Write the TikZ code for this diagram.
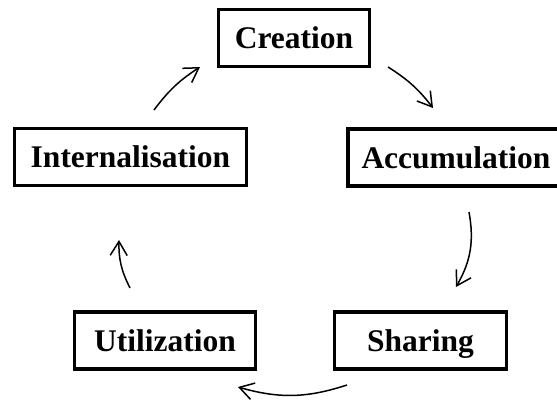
\documentclass[tikz,border=0pt]{standalone}
\usepackage{fontspec}
\setmainfont{Liberation Serif}
\usetikzlibrary{arrows.meta}
\begin{document}
\begin{tikzpicture}[x=1pt,y=1pt,
  stage/.style={draw, line width=3.5pt, minimum height=57pt, inner sep=0pt,
    text height=28pt, text depth=7pt,
    font=\fontsize{31.5}{36}\selectfont\bfseries},
  flow/.style={line width=1.5pt,
    -{Straight Barb[length=14pt,width=17pt,line width=1.5pt]}}]
\useasboundingbox (0,0) rectangle (557,-401);

% the five stages of the cycle
\node[stage, minimum width=151pt] (creation) at (294,-38)    {Creation};
\node[stage, minimum width=216pt] (accum)    at (456,-157.5) {Accumulation};
\node[stage, minimum width=172pt] (sharing)  at (420.5,-340.5) {Sharing};
\node[stage, minimum width=181pt] (util)     at (165,-340.5) {Utilization};
\node[stage, minimum width=232pt] (intern)   at (130.5,-157) {Internalisation};

% arrow end points, set apart from the boxes
\coordinate (ca1) at (388,-67);  \coordinate (ca2) at (433,-108);
\coordinate (as1) at (469,-212); \coordinate (as2) at (456,-287);
\coordinate (su1) at (347,-385); \coordinate (su2) at (238,-387);
\coordinate (ui1) at (130,-288); \coordinate (ui2) at (119,-240);
\coordinate (ic1) at (154,-110); \coordinate (ic2) at (200,-67);

% clockwise flow between the stages
\draw[flow] (ca1) to[bend left=10] (ca2);
\draw[flow] (as1) to[bend left=20] (as2);
\draw[flow] (su1) to[bend left=17] (su2);
\draw[flow] (ui1) to[bend left=14] (ui2);
\draw[flow] (ic1) to[bend left=10] (ic2);
\end{tikzpicture}
\end{document}
